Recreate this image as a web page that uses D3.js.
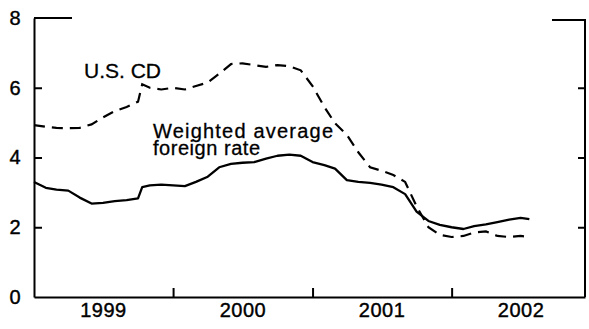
<!DOCTYPE html>
<html>
<head>
<meta charset="utf-8">
<script src="https://cdn.jsdelivr.net/npm/d3@7"></script>
<style>
  body { margin: 0; background: #fff; }
  svg { display: block; }
  .axis path, .axis line { stroke: #000; stroke-width: 2; }
  .axis text { font-family: 'Liberation Sans', Arial, sans-serif; font-size: 20px; fill: #000; stroke: #000; stroke-width: 0.4; letter-spacing: 0.5px; }
  .lbl { font-family: 'Liberation Sans', Arial, sans-serif; fill: #000; stroke: #000; stroke-width: 0.3; }
</style>
</head>
<body>
<svg></svg>
<script>
// dates of each observation (monthly, one extra point for the Oct 1999 jump)
var dates = ["1999-01-01","1999-02-01","1999-03-01","1999-04-01","1999-05-01","1999-06-01",
  "1999-07-01","1999-08-01","1999-09-01","1999-10-01","1999-10-12","1999-11-01","1999-12-01",
  "2000-01-01","2000-02-01","2000-03-01","2000-04-01","2000-05-01","2000-06-01","2000-07-01",
  "2000-08-01","2000-09-01","2000-10-01","2000-11-01","2000-12-01","2001-01-01","2001-02-01",
  "2001-03-01","2001-04-01","2001-05-01","2001-06-01","2001-07-01","2001-08-01","2001-09-01",
  "2001-10-01","2001-11-01","2001-12-01","2002-01-01","2002-02-01","2002-03-01","2002-04-01",
  "2002-05-01","2002-06-01","2002-07-01","2002-07-24"];

var usCD = [4.93,4.88,4.85,4.84,4.85,4.95,
  5.15,5.33,5.45,5.6,6.1,6.0,5.95,
  6.0,5.95,6.05,6.15,6.4,6.68,6.7,
  6.65,6.6,6.65,6.62,6.5,6.05,5.45,
  4.98,4.65,4.15,3.72,3.62,3.5,3.3,
  2.6,2.0,1.78,1.72,1.75,1.85,1.88,
  1.75,1.72,1.75,1.72];

var foreign = [3.3,3.13,3.08,3.05,2.85,2.68,
  2.7,2.75,2.78,2.83,3.15,3.2,3.22,
  3.2,3.18,3.3,3.45,3.72,3.82,3.85,
  3.87,3.97,4.05,4.08,4.05,3.87,3.78,
  3.68,3.35,3.3,3.27,3.22,3.15,2.95,
  2.45,2.18,2.07,2.0,1.95,2.03,2.08,
  2.15,2.22,2.27,2.23];

var yTicks = [0, 2, 4, 6, 8];
var yearLabels = ["1999", "2000", "2001", "2002"];

var width = 589, height = 329;
var svg = d3.select("svg").attr("width", width).attr("height", height);

var parse = d3.timeParse("%Y-%m-%d");
var x = d3.scaleTime()
  .domain([parse("1999-01-01"), parse("2002-12-17")])
  .range([34, 585]);
var y = d3.scaleLinear().domain([0, 8]).range([297, 18]);

var fmtYear = d3.timeFormat("%Y");
var yearStarts = yearLabels.slice(1).map(function(s){ return parse(s + "-01-01"); });
var yearMids = yearLabels.map(function(s){ return parse(s + "-07-01"); });

// left axis
svg.append("g").attr("class", "axis")
  .attr("transform", "translate(34,0)")
  .call(d3.axisLeft(y).tickValues(yTicks).tickSize(-8).tickSizeOuter(0).tickPadding(13))
  .call(function(g){ g.selectAll(".tick line").filter(function(d){ return d === 0 || d === 8; }).remove(); });

// right axis
svg.append("g").attr("class", "axis")
  .attr("transform", "translate(585,0)")
  .call(d3.axisRight(y).tickValues([2, 4, 6]).tickSize(-7).tickSizeOuter(0).tickFormat(""))
  .call(function(g){ g.select(".domain").attr("d", "M0," + (y(8) + 2) + "V" + y(0)); });

// bottom axis: year boundary ticks
svg.append("g").attr("class", "axis")
  .attr("transform", "translate(0,297)")
  .call(d3.axisBottom(x).tickValues(yearStarts).tickSize(-9).tickSizeOuter(0).tickFormat(""));

// bottom axis: year labels at mid year
svg.append("g").attr("class", "axis")
  .attr("transform", "translate(0,297)")
  .call(d3.axisBottom(x).tickValues(yearMids).tickSize(0).tickPadding(6).tickFormat(fmtYear))
  .call(function(g){ g.select(".domain").remove(); });

// top stubs of the frame
svg.append("line").attr("x1", 34).attr("x2", 72).attr("y1", y(8)).attr("y2", y(8))
  .attr("stroke", "#000").attr("stroke-width", 2);
svg.append("line").attr("x1", 552).attr("x2", 586).attr("y1", y(8) + 2).attr("y2", y(8) + 2)
  .attr("stroke", "#000").attr("stroke-width", 2);

var line = function(vals) {
  return d3.line()
    .x(function(d, i){ return x(parse(dates[i])); })
    .y(function(d){ return y(d); })(vals);
};

svg.append("path").attr("d", line(usCD))
  .attr("fill", "none").attr("stroke", "#000").attr("stroke-width", 2.2)
  .attr("stroke-dasharray", "11,7");

svg.append("path").attr("d", line(foreign))
  .attr("fill", "none").attr("stroke", "#000").attr("stroke-width", 2.3)
  .attr("stroke-linejoin", "round");

// labels
svg.append("text").attr("class", "lbl").attr("x", 84).attr("y", 78)
  .style("font-size", "21px").text("U.S. CD");
svg.append("text").attr("class", "lbl").attr("x", 153).attr("y", 138)
  .style("font-size", "20px").attr("textLength", 180).attr("lengthAdjust", "spacing")
  .text("Weighted average");
svg.append("text").attr("class", "lbl").attr("x", 153).attr("y", 155)
  .style("font-size", "20px").attr("textLength", 107).attr("lengthAdjust", "spacing")
  .text("foreign rate");
</script>
</body>
</html>
